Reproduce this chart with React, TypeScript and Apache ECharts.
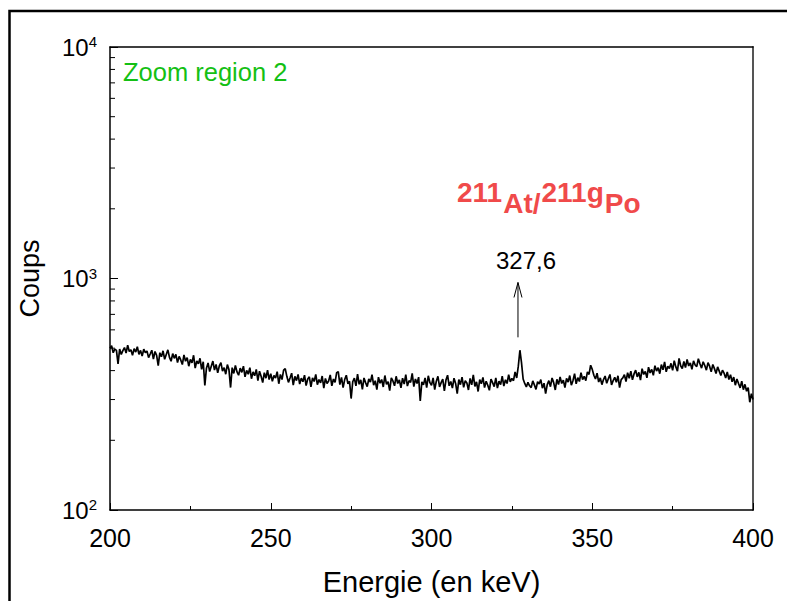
import React, { useEffect, useRef } from "react";
import * as echarts from "echarts";

const counts200to250 = [
  500, 512, 478, 495, 489, 428, 496, 470, 488, 503, 476, 515, 484, 492, 466, 498, 481, 507, 470, 489,
  462, 495, 478, 486, 455, 472, 490, 449, 484, 466, 420, 478, 459, 487, 448, 470, 492, 456, 439, 474,
  452, 470, 433, 461, 445, 425, 468, 439, 455, 418, 447, 432, 466, 410, 441, 428, 452, 405, 437, 345,
  410, 432, 396, 418, 440, 402, 425, 391, 419, 433, 398, 412, 386, 425, 404, 338, 412, 389, 421, 395,
  382, 410, 393, 418, 376, 401, 386, 412, 369, 395, 380, 405, 362, 398, 378, 355, 392, 371, 402, 366,
];
const counts250to300 = [
  388, 360, 381, 372, 396, 351, 385, 366, 402, 408, 378, 356, 372, 390, 346, 378, 362, 385, 350, 371,
  358, 382, 345, 368, 376, 340, 372, 359, 385, 348, 366, 354, 379, 336, 370, 352, 361, 383, 344, 368,
  356, 392, 396, 348, 374, 338, 366, 382, 351, 360, 303, 358, 371, 344, 386, 349, 365, 332, 372, 355,
  341, 368, 357, 384, 346, 362, 331, 375, 353, 366, 340, 381, 349, 358, 328, 372, 361, 344, 378, 352,
  365, 337, 371, 350, 384, 343, 362, 356, 389, 341, 368, 352, 375, 296, 358, 347, 372, 338, 380, 355,
];
const counts300to350 = [
  346, 372, 331, 360, 378, 340, 355, 368, 327, 364, 382, 344, 359, 336, 371, 352, 318, 366, 348, 375,
  339, 362, 354, 330, 370, 347, 383, 342, 358, 325, 366, 351, 374, 338, 360, 346, 329, 368, 355, 341,
  372, 336, 360, 348, 379, 343, 365, 352, 384, 358, 370, 362, 395, 372, 418, 490, 432, 368, 352, 340,
  356, 344, 338, 361, 347, 332, 358, 350, 366, 336, 353, 318, 348, 362, 341, 372, 355, 330, 367, 348,
  376, 352, 364, 338, 370, 357, 381, 346, 362, 388, 351, 373, 359, 392, 366, 378, 362, 395, 385, 422,
];
const counts350to400 = [
  405, 382, 368, 390, 357, 372, 348, 366, 379, 353, 369, 385, 347, 362, 374, 356, 380, 338, 366, 372,
  384, 359, 392, 371, 398, 365, 387, 402, 376, 393, 364, 408, 385, 397, 372, 414, 391, 405, 382, 420,
  398, 412, 388, 425, 403, 436, 395, 418, 409, 430, 401, 442, 415, 398, 452, 420, 408, 438, 412, 447,
  419, 432, 405, 441, 423, 416, 450, 428, 410, 437, 421, 402, 433, 418, 395, 425, 408, 389, 415, 398,
  381, 402, 390, 372, 395, 366, 384, 358, 375, 346, 368, 352, 337, 360, 331, 349, 326, 338, 292, 318,
  300,
];

const startKeV = 200;
const stepKeV = 0.5;
const yMinorTicks = [200, 300, 400, 500, 600, 700, 800, 900, 2000, 3000, 4000, 5000, 6000, 7000, 8000, 9000];
const arrowLine = [[326.9, 557, 961]];
const peakLabel = "327,6";
const isotopeParts = [
  { text: "211", raised: true },
  { text: "At/", raised: false },
  { text: "211g", raised: true },
  { text: "Po", raised: false },
];

export default function App() {
  const ref = useRef<HTMLDivElement>(null);
  useEffect(() => {
    if (!ref.current) return;
    const chart = echarts.init(ref.current, null, { renderer: "svg" });
    const counts = [...counts200to250, ...counts250to300, ...counts300to350, ...counts350to400];
    const spectrum = counts.map((c, i) => [startKeV + i * stepKeV, c]);
    const font = "Arial, 'Liberation Sans', sans-serif";
    const redFont = "bold 28px Arial, 'Liberation Sans', sans-serif";
    const red = "#f04a4a";

    // Place isotope label pieces one after another
    const isotopeGraphics: any[] = [];
    let cursor = 457;
    isotopeParts.forEach((p) => {
      const w = (echarts as any).format && (echarts as any).format.getTextRect
        ? (echarts as any).format.getTextRect(p.text, redFont).width
        : p.text.length * 15.5;
      isotopeGraphics.push({
        type: "text",
        x: cursor,
        y: p.raised ? 192 : 203,
        style: { text: p.text, font: redFont, fill: red, verticalAlign: "middle", align: "left" },
        silent: true,
      });
      cursor += w + 1;
    });

    chart.setOption({
      animation: false,
      backgroundColor: "#fff",
      grid: { left: 110, right: 34, top: 47, bottom: 90, containLabel: false },
      xAxis: [
        {
          type: "value",
          min: 200,
          max: 400,
          interval: 50,
          position: "bottom",
          axisLine: { show: true, lineStyle: { color: "#000", width: 1.5 } },
          axisTick: { show: true, inside: true, length: 7, lineStyle: { color: "#000", width: 1 } },
          minorTick: { show: true, splitNumber: 2, length: 4, lineStyle: { color: "#000", width: 1 } },
          splitLine: { show: false },
          axisLabel: { color: "#000", fontSize: 25, fontFamily: font, margin: 15 },
          name: "Energie (en keV)",
          nameLocation: "middle",
          nameGap: 57,
          nameTextStyle: { color: "#000", fontSize: 29, fontFamily: font },
        },
        {
          type: "value",
          min: 200,
          max: 400,
          position: "top",
          axisLine: { show: true, lineStyle: { color: "#000", width: 1.5 } },
          axisTick: { show: false },
          axisLabel: { show: false },
          splitLine: { show: false },
        },
      ],
      yAxis: [
        {
          type: "log",
          logBase: 10,
          min: 100,
          max: 10000,
          position: "left",
          axisLine: { show: true, lineStyle: { color: "#000", width: 1.5 } },
          axisTick: { show: true, inside: true, length: 8, lineStyle: { color: "#000", width: 1 } },
          minorTick: { show: false },
          splitLine: { show: false },
          axisLabel: {
            margin: 13,
            formatter: (v: number) => "{b|10}{s|" + Math.round(Math.log10(v)) + "}",
            rich: {
              b: { fontSize: 24, fontFamily: font, color: "#000", lineHeight: 26 },
              s: { fontSize: 15, fontFamily: font, color: "#000", verticalAlign: "top", lineHeight: 15 },
            },
          },
          name: "Coups",
          nameLocation: "middle",
          nameGap: 67,
          nameTextStyle: { color: "#000", fontSize: 27, fontFamily: font },
        },
        {
          type: "value",
          min: 0,
          max: 1,
          position: "right",
          axisLine: { show: true, lineStyle: { color: "#555", width: 2 } },
          axisTick: { show: false },
          axisLabel: { show: false },
          splitLine: { show: false },
        },
      ],
      series: [
        {
          type: "line",
          xAxisIndex: 0,
          yAxisIndex: 0,
          data: spectrum,
          showSymbol: false,
          symbol: "none",
          lineStyle: { color: "#000", width: 1.7 },
          silent: true,
        },
        {
          type: "custom",
          xAxisIndex: 0,
          yAxisIndex: 0,
          data: yMinorTicks.map((v) => [200, v]),
          encode: { x: 0, y: 1 },
          renderItem: (params: any, api: any) => {
            const p = api.coord([api.value(0), api.value(1)]);
            return {
              type: "line",
              shape: { x1: p[0], y1: p[1], x2: p[0] + 5, y2: p[1] },
              style: { stroke: "#000", lineWidth: 1 },
            };
          },
          silent: true,
        },
        {
          type: "custom",
          xAxisIndex: 0,
          yAxisIndex: 0,
          data: arrowLine,
          encode: { x: 0, y: [1, 2] },
          renderItem: (params: any, api: any) => {
            const p1 = api.coord([api.value(0), api.value(1)]);
            const p2 = api.coord([api.value(0), api.value(2)]);
            return {
              type: "group",
              children: [
                {
                  type: "line",
                  shape: { x1: p1[0], y1: p1[1], x2: p2[0], y2: p2[1] },
                  style: { stroke: "#000", lineWidth: 1 },
                },
                {
                  type: "polyline",
                  shape: { points: [[p2[0] - 4, p2[1] + 15], [p2[0], p2[1]], [p2[0] + 4, p2[1] + 15]] },
                  style: { stroke: "#000", lineWidth: 1, fill: "none" },
                },
                {
                  type: "text",
                  style: {
                    text: peakLabel,
                    x: p2[0] + 8,
                    y: p2[1] - 22,
                    align: "center",
                    verticalAlign: "middle",
                    fontSize: 24,
                    fontFamily: font,
                    fill: "#000",
                  },
                },
              ],
            };
          },
          silent: true,
        },
      ],
      graphic: [
        {
          type: "rect",
          shape: { x: 9.5, y: 11, width: 820, height: 640 },
          style: { stroke: "#000", lineWidth: 2.5, fill: "none" },
          silent: true,
        },
        {
          type: "text",
          left: 123,
          top: 59,
          style: { text: "Zoom region 2", fontSize: 25.5, fontFamily: font, fill: "#14c014" },
        },
        ...isotopeGraphics,
      ],
    });
    return () => chart.dispose();
  }, []);
  return <div ref={ref} style={{ position: "fixed", left: 0, top: 0, width: 787, height: 601 }} />;
}
